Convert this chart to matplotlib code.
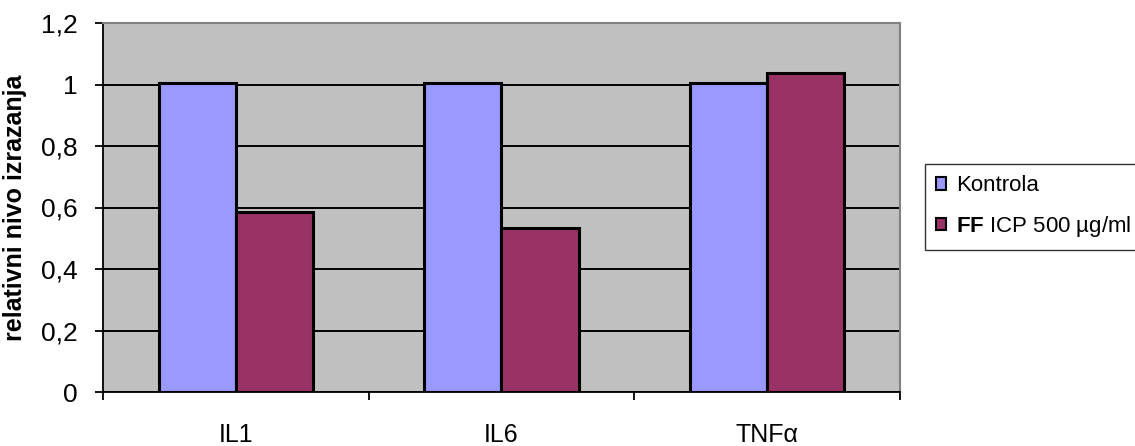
import matplotlib
matplotlib.use("Agg")
import matplotlib.pyplot as plt
import numpy as np

plt.rcParams['font.family'] = ['Liberation Sans', 'DejaVu Sans']
plt.rcParams['mathtext.fontset'] = 'custom'
plt.rcParams['mathtext.bf'] = 'Liberation Sans:bold'
plt.rcParams['mathtext.rm'] = 'Liberation Sans'

categories = ['IL1', 'IL6', 'TNFα']
kontrola = [1.005, 1.005, 1.005]
ff_icp = [0.585, 0.534, 1.038]
series_labels = ['Kontrola', r'$\mathbf{FF}$ ICP 500 µg/ml']
y_ticks = [0, 0.2, 0.4, 0.6, 0.8, 1.0, 1.2]
y_ticklabels = ['0', '0,2', '0,4', '0,6', '0,8', '1', '1,2']

fig = plt.figure(figsize=(11.35, 4.46), dpi=100)
ax = fig.add_axes([103 / 1135, 54 / 446, 797 / 1135, 369 / 446])
ax.set_facecolor('#c0c0c0')

x = np.arange(len(categories))
w = 0.29
ax.bar(x - w / 2, kontrola, w, color='#9999ff', edgecolor='black', linewidth=2.2,
       label=series_labels[0], zorder=3)
ax.bar(x + w / 2, ff_icp, w, color='#993366', edgecolor='black', linewidth=2.2,
       label=series_labels[1], zorder=3)

ax.set_xlim(-0.5, len(categories) - 0.5)
ax.set_ylim(0, 1.2)
ax.set_yticks(y_ticks)
ax.set_yticklabels(y_ticklabels)
ax.yaxis.grid(True, color='black', linewidth=1.4, zorder=1)
ax.set_axisbelow(True)

ax.set_xticks(np.arange(len(categories) + 1) - 0.5)
ax.set_xticklabels([])
ax.set_xticks(x, minor=True)
ax.set_xticklabels(categories, minor=True)
ax.tick_params(axis='x', which='major', direction='out', length=6, width=1.3, color='black')
ax.tick_params(axis='x', which='minor', length=0, pad=22, labelsize=18)
ax.tick_params(axis='y', direction='out', length=6, width=1.3, pad=12, labelsize=19)

for side in ('left', 'bottom'):
    ax.spines[side].set_color('black')
    ax.spines[side].set_linewidth(1.3)
for side in ('right', 'top'):
    ax.spines[side].set_color('#808080')
    ax.spines[side].set_linewidth(1.5)

ax.set_ylabel('relativni nivo izrazanja', fontsize=18, fontweight='bold', labelpad=10)

leg = fig.legend(loc='upper left', bbox_to_anchor=(925 / 1135, 1 - 164 / 446),
                 frameon=True, fancybox=False, edgecolor='black', fontsize=16,
                 handlelength=0.45, handleheight=0.5, handletextpad=0.45,
                 labelspacing=0.8, borderpad=0.5, borderaxespad=0)
leg.get_frame().set_linewidth(1.0)
for h in leg.legend_handles:
    h.set_linewidth(1.5)

fig.savefig('out.png', dpi=100)
